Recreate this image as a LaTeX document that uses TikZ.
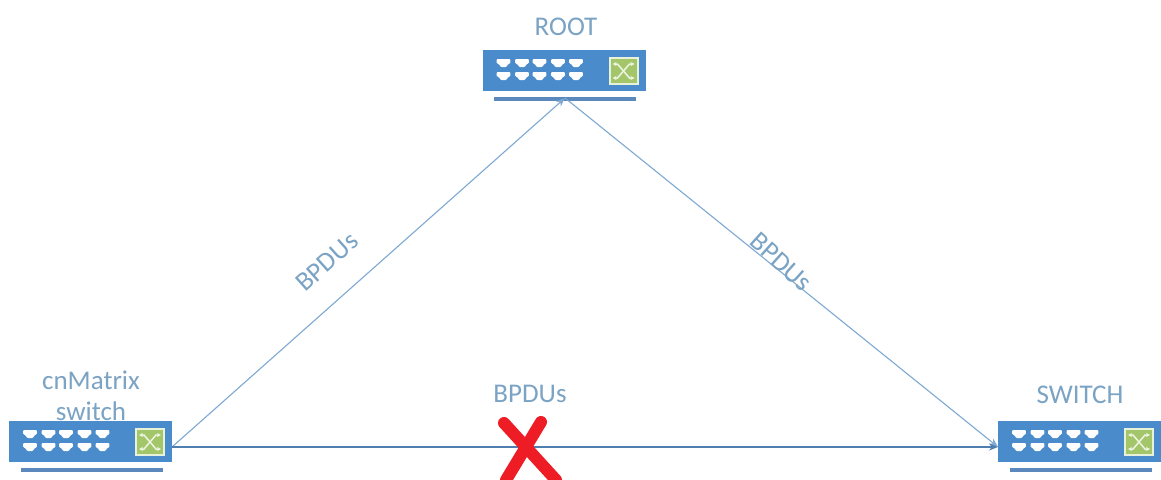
\documentclass[tikz,border=0pt]{standalone}
\usepackage{fontspec}
\setmainfont{Carlito}
\usetikzlibrary{arrows.meta}
\definecolor{swblue}{HTML}{4A8BCB}
\definecolor{barblue}{HTML}{5B88BD}
\definecolor{linkblue}{HTML}{7FA8D2}
\definecolor{hlink}{HTML}{4F7FAF}
\definecolor{txtblue}{HTML}{7BA3C4}
\definecolor{boxgreen}{HTML}{A3C66B}
\definecolor{xred}{HTML}{EE1C25}
\tikzset{
  x=1pt,y=-1pt,
  body/.style={fill=swblue,draw=none,minimum width=163pt,minimum height=41pt,inner sep=0pt,outer sep=0pt},
  barnode/.style={fill=barblue,draw=none,minimum width=142pt,minimum height=4.5pt,inner sep=0pt,outer sep=0pt},
  lbl/.style={text=txtblue,font=\fontsize{27}{27}\selectfont,inner sep=0pt},
  link/.style={draw=linkblue,line width=1.1pt},
  hl/.style={draw=hlink,line width=1.2pt},
  tip/.style={-{Stealth[length=9pt,width=7pt]}},
}
% #1 name, #2 left x, #3 top y
\newcommand{\swunit}[3]{%
  \begin{scope}[shift={(#2,#3)}]
    \node[body,anchor=north west] (#1) at (0,0) {};
    \node[barnode,anchor=north west] (#1bar) at (11.5,46.5) {};
    \foreach \px in {21,39.5,57,75.5,93.5}{
      \foreach \py in {13,26}{
        \fill[white,rounded corners=1pt] (\px-6.8,\py-4) -- (\px+6.8,\py-4) -- (\px+6.8,\py+0.5) -- (\px+4.5,\py+1) -- (\px+3,\py+4) -- (\px-3,\py+4) -- (\px-4.5,\py+1) -- (\px-6.8,\py+0.5) -- cycle;
      }
    }
    \fill[white!75!boxgreen] (126,7) rectangle (156,35);
    \fill[boxgreen] (128,9) rectangle (154,33);
    \draw[white!80!boxgreen,line width=1.5pt,{Stealth[length=4pt,width=4pt]}-{Stealth[length=4pt,width=4pt]}] (130,14) -- (135,14) -- (147,28) -- (152,28);
    \draw[white!80!boxgreen,line width=1.5pt,{Stealth[length=4pt,width=4pt]}-{Stealth[length=4pt,width=4pt]}] (130,28) -- (135,28) -- (147,14) -- (152,14);
  \end{scope}%
}
\begin{document}
\begin{tikzpicture}
\useasboundingbox (0,0) rectangle (1161,479);
\fill[white] (0,0) rectangle (1161,479);
\swunit{root}{482.5}{50}
\swunit{left}{9}{421}
\swunit{right}{998}{421}
\node[lbl] (rootlabel) at (566,27) {ROOT};
\node[lbl] (leftlabela) at (91,380) {cnMatrix};
\node[lbl] (leftlabelb) at (91,411) {switch};
\node[lbl] (rightlabel) at (1080,395) {SWITCH};
\coordinate (leftport) at (172,447);
\coordinate (rightport) at (998,447);
\coordinate (apex) at (565,98);
\draw[link,tip] (leftport) -- (apex);
\draw[link,tip] (apex) -- (rightport);
\draw[hl,tip] (leftport) -- (rightport);
\node[lbl,rotate=42] (bl) at (327,262) {BPDUs};
\node[lbl,rotate=-42] (br) at (781,262) {BPDUs};
\node[lbl] (bh) at (530,394) {BPDUs};
\begin{scope}
\clip (0,0) rectangle (1161,479);
\draw[xred,line width=12pt,line cap=round] (504,423) -- (556,480);
\draw[xred,line width=12pt,line cap=round] (541,422) -- (506,480);
\end{scope}
\end{tikzpicture}
\end{document}
